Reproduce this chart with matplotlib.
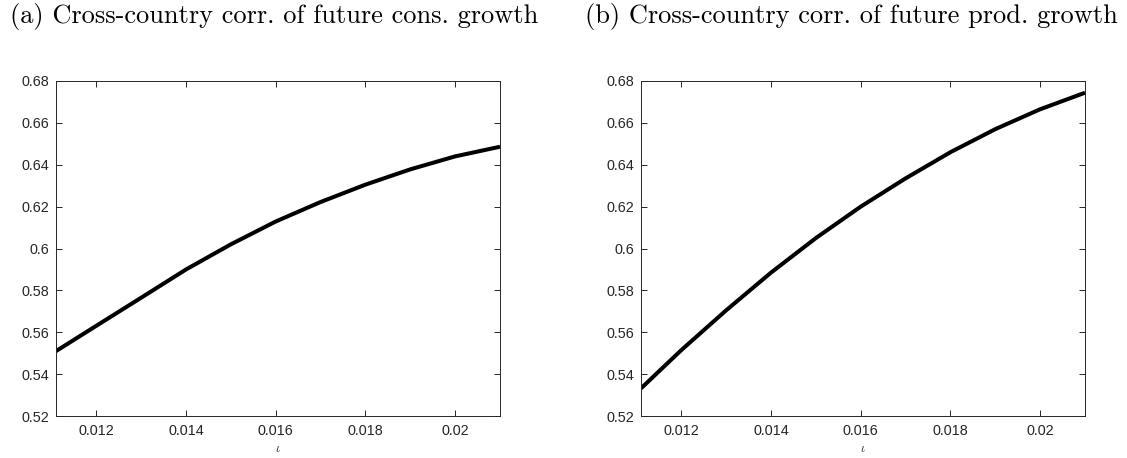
import matplotlib
matplotlib.use("Agg")
import matplotlib.pyplot as plt

# ---- data ----
iota = [0.0111, 0.012, 0.013, 0.014, 0.015, 0.016, 0.017, 0.018, 0.019, 0.020, 0.021]
corr_cons = [0.5510, 0.5631, 0.5765, 0.5900, 0.6020, 0.6129, 0.6222, 0.6305, 0.6378, 0.6440, 0.6486]
corr_prod = [0.5332, 0.5515, 0.5705, 0.5885, 0.6050, 0.6200, 0.6335, 0.6460, 0.6570, 0.6665, 0.6744]

x_ticks = [0.012, 0.014, 0.016, 0.018, 0.020]
x_ticklabels = ["0.012", "0.014", "0.016", "0.018", "0.02"]
y_ticks = [0.52, 0.54, 0.56, 0.58, 0.60, 0.62, 0.64, 0.66, 0.68]
y_ticklabels = ["0.52", "0.54", "0.56", "0.58", "0.6", "0.62", "0.64", "0.66", "0.68"]
titles = ["(a) Cross-country corr. of future cons. growth",
          "(b) Cross-country corr. of future prod. growth"]
series = [corr_cons, corr_prod]

W, H = 1127, 458
fig = plt.figure(figsize=(W / 100, H / 100), dpi=100)
plt.rcParams["mathtext.fontset"] = "cm"

axcol = "#262626"
lefts = [56, 641]
title_centers = [274, 851]
for left, yvals, title, tc in zip(lefts, series, titles, title_centers):
    ax = fig.add_axes([left / W, (H - 416) / H, 444 / W, 335 / H])
    ax.plot(iota, yvals, color="black", lw=2.9, solid_capstyle="butt",
            solid_joinstyle="round")
    ax.set_xlim(0.0111, 0.021)
    ax.set_ylim(0.52, 0.68)
    ax.set_xticks(x_ticks)
    ax.set_xticklabels(x_ticklabels)
    ax.set_yticks(y_ticks)
    ax.set_yticklabels(y_ticklabels)
    ax.tick_params(direction="in", length=4.5, width=0.7, color=axcol,
                   top=True, right=True, labelsize=10.4, labelcolor=axcol)
    ax.tick_params(axis="x", pad=6)
    ax.tick_params(axis="y", pad=5)
    for lab in ax.get_xticklabels() + ax.get_yticklabels():
        lab.set_fontfamily("Liberation Sans")
    for sp in ax.spines.values():
        sp.set_linewidth(0.7)
        sp.set_color(axcol)
    ax.set_xlabel(r"$\iota$", fontsize=9, color=axcol, labelpad=3)
    fig.text(tc / W, 1 - 17 / H, title, ha="center", va="center",
             fontfamily="cmr10", fontsize=19.0, color="black")

fig.savefig("out.png", dpi=100)
